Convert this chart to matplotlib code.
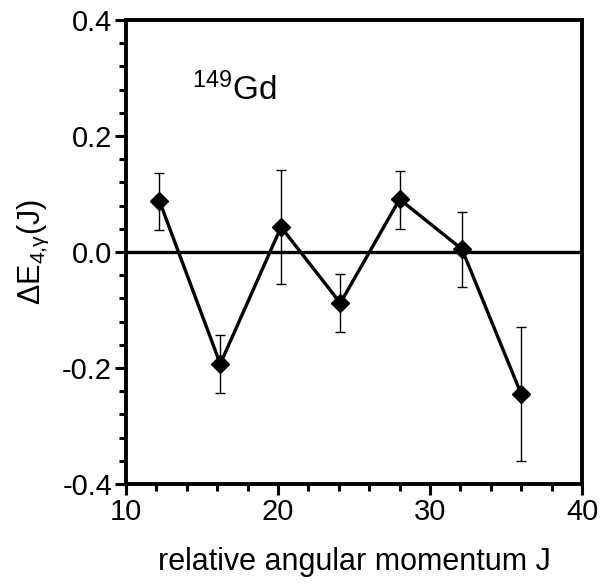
import matplotlib
matplotlib.use("Agg")
import matplotlib.pyplot as plt
from matplotlib.ticker import MultipleLocator
import numpy as np

plt.rcParams['font.family'] = ['Liberation Sans', 'DejaVu Sans']

# data
J = [12.2, 16.2, 20.2, 24.1, 28.0, 32.1, 36.0]
dE = [0.088, -0.193, 0.043, -0.088, 0.091, 0.005, -0.245]
err_lo = [0.050, 0.050, 0.098, 0.050, 0.051, 0.065, 0.115]
err_hi = [0.048, 0.050, 0.098, 0.050, 0.049, 0.064, 0.116]

fig = plt.figure(figsize=(6.01, 5.88), dpi=100)
ax = fig.add_axes([0.2097, 0.1769, 0.7587, 0.789])

ax.axhline(0.0, color='black', lw=2.4, zorder=1)
ax.errorbar(J, dE, yerr=[err_lo, err_hi], fmt='none', ecolor='black',
            elinewidth=1.0, capsize=3.5, capthick=1.0, zorder=2)
ax.plot(J, dE, '-', color='black', lw=2.4, marker='D', ms=9,
        mfc='black', mec='black', zorder=3)

ax.set_xlim(10, 40)
ax.set_ylim(-0.4, 0.4)
ax.xaxis.set_major_locator(MultipleLocator(10))
ax.xaxis.set_minor_locator(MultipleLocator(2))
ax.yaxis.set_major_locator(MultipleLocator(0.2))
ax.yaxis.set_minor_locator(MultipleLocator(0.04))
ax.set_yticks([-0.4, -0.2, 0.0, 0.2, 0.4])
ax.set_yticklabels(['-0.4', '-0.2', '0.0', '0.2', '0.4'])

for s in ax.spines.values():
    s.set_linewidth(2.8)
ax.tick_params(which='both', direction='out', top=False, right=False,
               labelsize=21, width=2.2, pad=2)
ax.tick_params(which='major', length=8)
ax.tick_params(which='minor', length=5)

ax.set_xlabel('relative angular momentum J', fontsize=22, labelpad=15)
ax.set_ylabel(r'$\mathregular{\Delta E_{4{,}\gamma}(J)}$', fontsize=22, labelpad=8)

ax.text(0.145, 0.849, r'$\mathregular{^{149}}$Gd', transform=ax.transAxes,
        fontsize=24, ha='left', va='center')

fig.savefig('out.png', dpi=100)
